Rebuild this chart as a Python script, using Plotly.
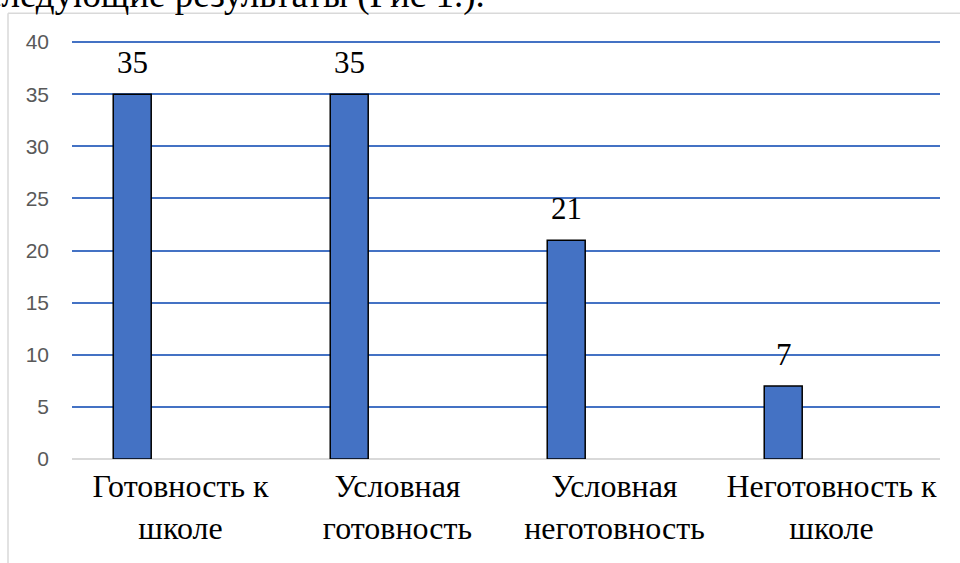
import plotly.graph_objects as go

categories = ["Готовность к<br>школе", "Условная<br>готовность", "Условная<br>неготовность", "Неготовность к<br>школе"]
values = [35, 35, 21, 7]
y_ticks = [0, 5, 10, 15, 20, 25, 30, 35, 40]
caption = "следующие результаты (Рис 1.)."

W, H = 960, 563
Y_MAX = 40.3
L, R, B = 72, 20, 104
ph = 417 * Y_MAX / 40
T = H - B - ph
pw = W - L - R

def px_x(p):
    return (p - L) / pw

def px_y(p):
    return (H - B - p) / ph

fig = go.Figure()
fig.add_trace(go.Bar(
    x=categories, y=values,
    offset=-0.31, width=0.175,
    marker=dict(color="#4472C4", line=dict(color="#000000", width=1.5)),
    cliponaxis=False,
))

annotations = [
    dict(text=str(v), x=c, y=v, xref="x", yref="y",
         xanchor="center", yanchor="bottom", xshift=-48, yshift=12,
         showarrow=False,
         font=dict(family="Liberation Serif", size=31, color="#000000"))
    for c, v in zip(categories, values)
]
annotations.append(
    dict(text=caption, xref="paper", yref="paper",
         x=px_x(-17), y=px_y(18), xanchor="left", yanchor="bottom",
         showarrow=False,
         font=dict(family="Liberation Serif", size=37, color="#000000")))

fig.update_layout(
    width=W, height=H,
    margin=dict(l=L, r=R, t=T, b=B),
    paper_bgcolor="white", plot_bgcolor="white",
    showlegend=False,
    xaxis=dict(
        type="category", automargin=False,
        tickfont=dict(family="Liberation Serif", size=32, color="#000000"),
        showgrid=False, showline=False, zeroline=False, ticks="",
        ticklabelstandoff=5,
    ),
    yaxis=dict(
        range=[0, Y_MAX], tickvals=y_ticks, automargin=False,
        tickfont=dict(family="Liberation Sans", size=21, color="#595959"),
        showgrid=True, gridcolor="#4472C4", gridwidth=1.5,
        zeroline=True, zerolinecolor="#D9D9D9", zerolinewidth=2,
        showline=False, ticks="", ticklabelstandoff=22,
    ),
    shapes=[
        dict(type="line", xref="paper", yref="paper",
             x0=px_x(8), x1=px_x(8), y0=px_y(13), y1=px_y(563),
             line=dict(color="#D9D9D9", width=1.5)),
        dict(type="line", xref="paper", yref="paper",
             x0=px_x(8), x1=px_x(960), y0=px_y(13), y1=px_y(13),
             line=dict(color="#D9D9D9", width=1.5)),
    ],
    annotations=annotations,
)

fig.write_html("out.html", config={"displayModeBar": False},
               post_script="document.body.style.margin='0';")
